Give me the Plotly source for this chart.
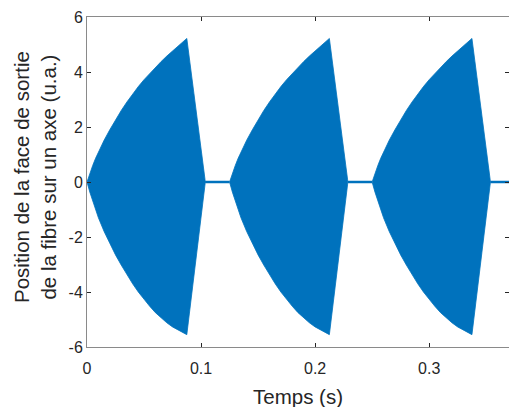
import plotly.graph_objects as go

# Envelope of one oscillation burst, time measured from the burst start (s)
rel_t = [0.0, 0.0025, 0.005, 0.0075, 0.01, 0.015, 0.02, 0.025, 0.03, 0.035,
         0.04, 0.045, 0.05, 0.055, 0.06, 0.065, 0.07, 0.075, 0.08, 0.0875, 0.1035]
upper = [0.0, 0.32, 0.6, 0.86, 1.1, 1.52, 1.9, 2.26, 2.6, 2.91,
         3.2, 3.47, 3.72, 3.95, 4.17, 4.38, 4.58, 4.76, 4.94, 5.22, 0.08]
lower = [0.0, -0.37, -0.7, -1.0, -1.3, -1.8, -2.25, -2.65, -3.02, -3.37,
         -3.7, -4.0, -4.27, -4.52, -4.75, -4.95, -5.12, -5.27, -5.4, -5.55, -0.08]

burst_start = [0.0, 0.125, 0.25]
rest_end = [0.125, 0.25, 0.37]
rest_level = 0.0

x_ticks = [0, 0.1, 0.2, 0.3]
x_labels = ["0", "0.1", "0.2", "0.3"]
y_ticks = [-6, -4, -2, 0, 2, 4, 6]
y_labels = ["-6", "-4", "-2", "0", "2", "4", "6"]

blue = "#0072BD"
txt = "#262626"
axc = "#8a8a8a"

fig = go.Figure()
for s, e in zip(burst_start, rest_end):
    xs = [s + t for t in rel_t] + [s + t for t in reversed(rel_t)]
    ys = upper + list(reversed(lower))
    fig.add_trace(go.Scatter(x=xs, y=ys, fill="toself", fillcolor=blue,
                             mode="lines", line=dict(color=blue, width=0.8),
                             hoverinfo="skip", showlegend=False))
    fig.add_trace(go.Scatter(x=[s + rel_t[-1], e], y=[rest_level, rest_level],
                             mode="lines", line=dict(color=blue, width=2.5),
                             hoverinfo="skip", showlegend=False))

fig.update_layout(
    width=509, height=407,
    margin=dict(l=87, r=0, t=17, b=60, autoexpand=False),
    paper_bgcolor="white", plot_bgcolor="white",
    font=dict(family="Liberation Sans, Arial, sans-serif", color=txt, size=16),
    xaxis=dict(range=[0, 0.37], tickvals=x_ticks, ticktext=x_labels,
               ticks="inside", ticklen=4, tickcolor=txt, tickwidth=1,
               showline=True, linecolor=axc, linewidth=1, mirror="ticks",
               showgrid=False, zeroline=False, ticklabelstandoff=7,
               tickfont=dict(size=16)),
    yaxis=dict(range=[-6, 6], tickvals=y_ticks, ticktext=y_labels,
               ticks="inside", ticklen=4, tickcolor=txt, tickwidth=1,
               showline=True, linecolor=axc, linewidth=1, mirror="ticks",
               showgrid=False, zeroline=False, tickfont=dict(size=16)),
    annotations=[
        dict(text="Position de la face de sortie<br>de la fibre sur un axe (u.a.)",
             xref="paper", yref="paper", x=0, y=0.5, xshift=-52, yshift=5,
             xanchor="center", yanchor="middle", textangle=-90,
             showarrow=False, font=dict(size=20.5, color=txt)),
        dict(text="Temps (s)", xref="paper", yref="paper", x=0.5, y=0,
             yshift=-49, xanchor="center", yanchor="middle",
             showarrow=False, font=dict(size=20.5, color=txt)),
    ],
)

fig.write_html("out.html", config={"displayModeBar": False},
               post_script="document.body.style.margin='0';document.body.style.overflow='hidden';")
